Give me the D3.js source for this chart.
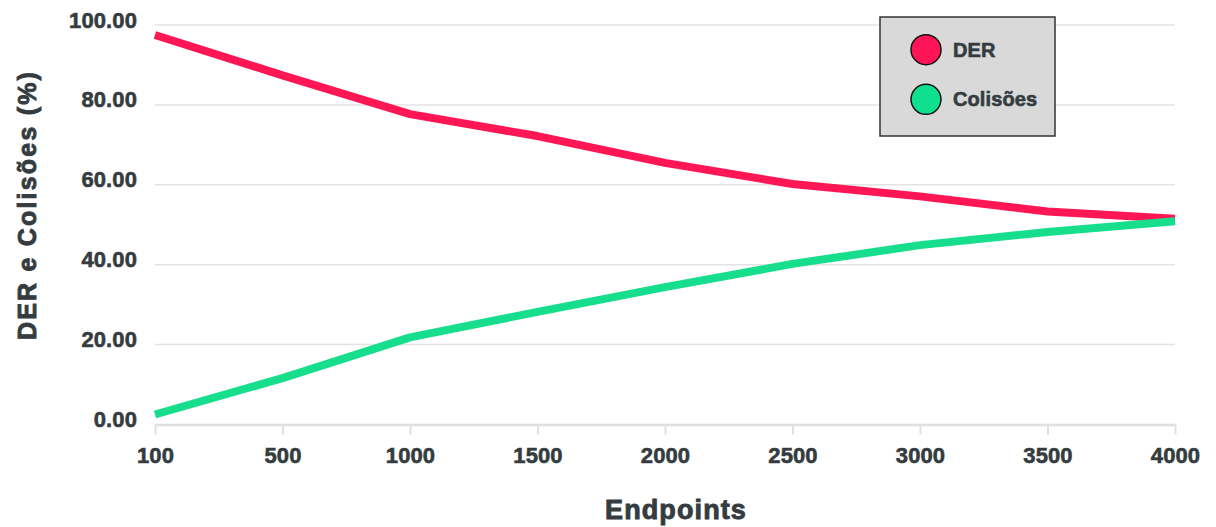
<!DOCTYPE html>
<html>
<head>
<meta charset="utf-8">
<script src="https://cdn.jsdelivr.net/npm/d3@7"></script>
<style>
  html, body { margin: 0; padding: 0; background: #fff; }
  svg { display: block; }
  text { font-family: "Liberation Sans", Arial, sans-serif; font-weight: bold; fill: #343c40; }
  .heavy { stroke: #343c40; stroke-width: 0.6px; }
</style>
</head>
<body>
<svg id="chart" width="1216" height="527"></svg>
<script>
// Number of endpoints on the x axis
const endpoints = ["100", "500", "1000", "1500", "2000", "2500", "3000", "3500", "4000"];
// Data extraction rate (%)
const der = [97.5, 87.4, 77.7, 72.2, 65.5, 60.2, 57.1, 53.3, 51.5];
// Collision rate (%)
const colisoes = [2.5, 11.6, 21.8, 28.2, 34.4, 40.2, 44.9, 48.2, 50.9];
// Y axis ticks
const yTicks = [0, 20, 40, 60, 80, 100];

const seriesNames = ["DER", "Colisões"];
const seriesColors = ["#ff1654", "#17de8d"];
const legendColors = ["#ff1457", "#0ee08f"];

const svg = d3.select("#chart");
const margin = { left: 155, right: 41, top: 25, bottom: 102.5 };
const W = 1216, H = 527;

const x = d3.scalePoint().domain(endpoints).range([margin.left, W - margin.right]);
const y = d3.scaleLinear().domain([0, 100]).range([H - margin.bottom, margin.top]);

// Horizontal grid lines
svg.append("g")
  .selectAll("line")
  .data(yTicks.filter(d => d > 0))
  .join("line")
  .attr("x1", margin.left).attr("x2", W - margin.right)
  .attr("y1", d => y(d)).attr("y2", d => y(d))
  .attr("stroke", "#e3e3e3").attr("stroke-width", 1.5);

// Y axis labels
const yAxis = svg.append("g")
  .attr("transform", `translate(${margin.left},0)`)
  .call(d3.axisLeft(y).tickValues(yTicks).tickFormat(d3.format(".2f")).tickSize(0).tickPadding(18));
yAxis.select(".domain").remove();
yAxis.selectAll("text")
  .attr("class", "heavy")
  .attr("font-size", 22).attr("font-family", null).attr("fill", null)
  .attr("y", -5).attr("letter-spacing", 0.1);

// X axis
const xAxis = svg.append("g")
  .attr("transform", `translate(0,${y(0)})`)
  .call(d3.axisBottom(x).tickSize(10).tickPadding(13).tickSizeOuter(0));
xAxis.select(".domain").attr("stroke", "#e0e0e0").attr("stroke-width", 2.5);
xAxis.selectAll(".tick line").attr("stroke", "#e0e0e0").attr("stroke-width", 2);
xAxis.selectAll("text")
  .attr("class", "heavy")
  .attr("font-size", 22).attr("font-family", null).attr("fill", null)
  .attr("letter-spacing", 0.1);

// Lines
const line = d3.line().x((d, i) => x(endpoints[i])).y(d => y(d));
[der, colisoes].forEach((vals, k) => {
  svg.append("path")
    .datum(vals)
    .attr("d", line)
    .attr("fill", "none")
    .attr("stroke", seriesColors[k])
    .attr("stroke-width", 8)
    .attr("stroke-linejoin", "round");
});

// Axis titles
svg.append("text")
  .attr("class", "heavy")
  .attr("x", 676).attr("y", 519)
  .attr("text-anchor", "middle")
  .attr("font-size", 27)
  .attr("letter-spacing", 1.1)
  .style("stroke-width", "0.9px")
  .text("Endpoints");

svg.append("text")
  .attr("class", "heavy")
  .attr("transform", "translate(36,205) rotate(-90)")
  .attr("text-anchor", "middle")
  .attr("font-size", 25)
  .attr("letter-spacing", 2.2)
  .style("stroke-width", "0.9px")
  .text("DER e Colisões (%)");

// Legend
const legend = svg.append("g");
legend.append("rect")
  .attr("x", 880).attr("y", 17).attr("width", 175).attr("height", 119)
  .attr("fill", "#d9d9d9").attr("stroke", "#333").attr("stroke-width", 1.5);
seriesNames.forEach((name, i) => {
  const cy = 49.7 + i * 49.6;
  legend.append("circle")
    .attr("cx", 926).attr("cy", cy).attr("r", 15)
    .attr("fill", legendColors[i]).attr("stroke", "#111").attr("stroke-width", 1.5);
  legend.append("text")
    .attr("class", "heavy")
    .attr("x", 953).attr("y", cy + 7)
    .attr("font-size", 20)
    .attr("letter-spacing", 0.1)
    .text(name);
});
</script>
</body>
</html>
